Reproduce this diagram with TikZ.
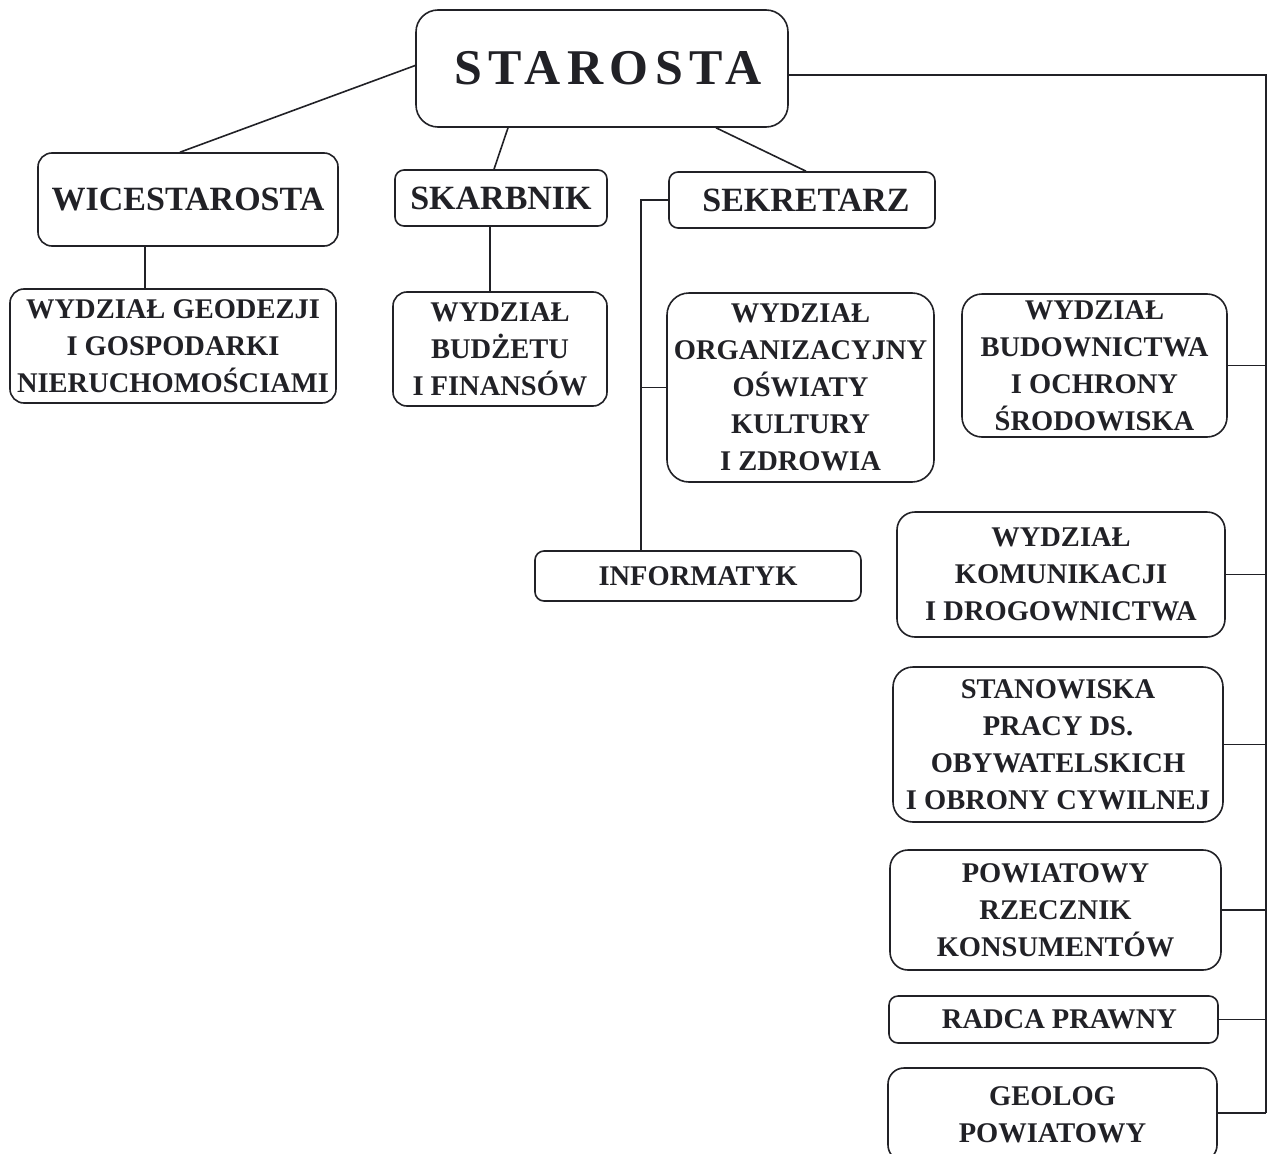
\documentclass[tikz,border=0pt]{standalone}
\usepackage{fontspec}
\setmainfont{Liberation Serif}
\usetikzlibrary{positioning}

\definecolor{ink}{rgb}{0.13,0.13,0.15}
\newcommand\bossfont{\fontsize{50}{52}\selectfont\bfseries\addfontfeature{LetterSpace=13}}
\newcommand\chieffont{\fontsize{34}{38}\selectfont\bfseries}
\newcommand\deptfont{\fontsize{28.5}{37}\selectfont\bfseries}

\tikzset{
	box/.style={draw=ink, text=ink, line width=1.6, rounded corners=14, align=center, inner sep=0pt},
	boss/.style={box, font=\bossfont, rounded corners=22},
	chief/.style={box, font=\chieffont},
	unit/.style={box, font=\deptfont},
	link/.style={draw=ink, line width=1.6}
}

\begin{document}
\begin{tikzpicture}[x=1pt,y=-1pt]
	\clip (0,0) rectangle (1281,1153);
	\fill[white] (0,0) rectangle (1281,1153);
	% top of the chart
	\node[boss, minimum width=372, minimum height=117] (staro) at (602,68.5) {\hspace*{12pt}STAROSTA};
	\node[chief, minimum width=300, minimum height=93] (wice) at (188,199.5) {WICESTAROSTA};
	\node[chief, rounded corners=9, minimum width=212, minimum height=56] (skarb) at (501,198) {SKARBNIK};
	\node[chief, rounded corners=9, minimum width=266, minimum height=56] (sekr) at (802,200) {\hspace*{8pt}SEKRETARZ};
	% departments
	\node[unit, minimum width=326, minimum height=114] (geod) at (173,346) {WYDZIAŁ GEODEZJI\\I GOSPODARKI\\NIERUCHOMOŚCIAMI};
	\node[unit, minimum width=214, minimum height=114] (budz) at (500,349) {WYDZIAŁ\\BUDŻETU\\I FINANSÓW};
	\node[unit, rounded corners=22, minimum width=267, minimum height=189] (org) at (800.5,387.5) {WYDZIAŁ\\ORGANIZACYJNY\\OŚWIATY\\KULTURY\\I ZDROWIA};
	\node[unit, rounded corners=20, minimum width=265, minimum height=143] (budow) at (1094.5,365.5) {WYDZIAŁ\\BUDOWNICTWA\\I OCHRONY\\ŚRODOWISKA};
	\node[unit, rounded corners=9, minimum width=326, minimum height=50] (inform) at (698,576) {INFORMATYK};
	\node[unit, rounded corners=18, minimum width=328, minimum height=125] (komun) at (1061,574.5) {WYDZIAŁ\\KOMUNIKACJI\\I DROGOWNICTWA};
	\node[unit, rounded corners=20, minimum width=330, minimum height=155] (stan) at (1058,744.5) {STANOWISKA\\PRACY DS.\\OBYWATELSKICH\\I OBRONY CYWILNEJ};
	\node[unit, rounded corners=18, minimum width=331, minimum height=120] (rzecz) at (1055.5,910) {POWIATOWY\\RZECZNIK\\KONSUMENTÓW};
	\node[unit, rounded corners=9, minimum width=329, minimum height=47] (radca) at (1053.5,1019.5) {\hspace*{12pt}RADCA PRAWNY};
	\node[unit, rounded corners=16, minimum width=329, minimum height=93] (geol) at (1052.5,1114.5) {GEOLOG\\POWIATOWY};
	% connectors
	\coordinate (bus top) at (1266,75);
	\coordinate (bus end) at (1266,1113);
	\coordinate (sek corner) at (641,200);
	\draw[link] ([yshift=3]staro.west) -- ([xshift=-8]wice.north);
	\draw[link] ([xshift=-94]staro.south) -- ([xshift=-7]skarb.north);
	\draw[link] ([xshift=114]staro.south) -- ([xshift=4]sekr.north);
	\draw[link] ([xshift=-43]wice.south) -- ([xshift=-28]geod.north);
	\draw[link] ([xshift=-11]skarb.south) -- ([xshift=-10]budz.north);
	\draw[link] (sekr.west) -- (sek corner) -- (inform.north -| sek corner);
	\draw[link] (org.west) -- (org.west -| sek corner);
	\draw[link] ([yshift=-6.5]staro.east) -- (bus top) -- (bus end);
	\foreach \n in {budow,komun,stan,rzecz,radca}
		\draw[link] (\n.east) -- (\n.east -| bus top);
	\draw[link] (geol.east |- bus end) -- (bus end);
\end{tikzpicture}
\end{document}
